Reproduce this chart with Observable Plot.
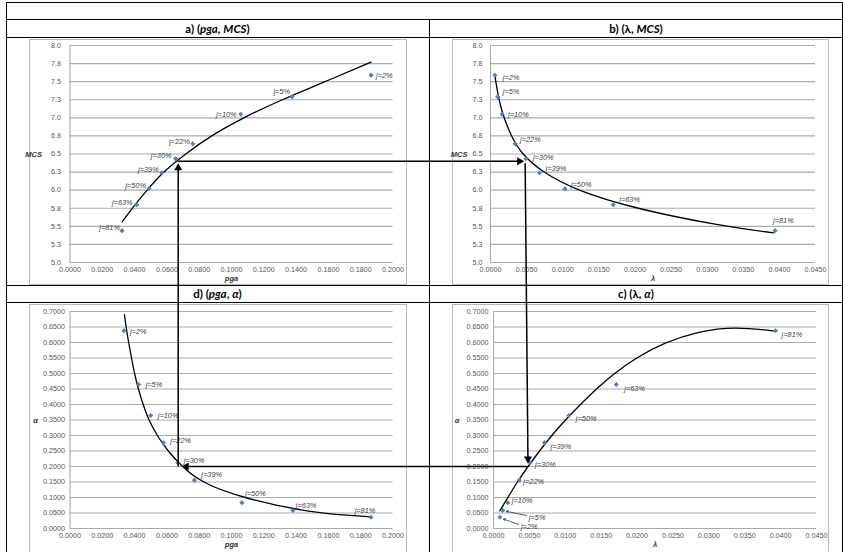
<!DOCTYPE html>
<html>
<head>
<meta charset="utf-8">
<script src="https://cdn.jsdelivr.net/npm/d3@7"></script>
<script src="https://cdn.jsdelivr.net/npm/@observablehq/plot@0.6"></script>
<style>
html,body{margin:0;padding:0;background:#fff;}
#page{position:relative;width:843px;height:552px;overflow:hidden;background:#fff;}
.hl{position:absolute;height:1px;background:#000;}
.vl{position:absolute;width:1px;background:#000;}
.hdr{position:absolute;font-family:Lato,"Open Sans",sans-serif;font-weight:700;font-size:11.5px;color:#000;white-space:nowrap;transform:translate(-50%,-50%);line-height:1;}
.frame{position:absolute;border:1px solid #b8b8b8;box-sizing:border-box;}
.panel{position:absolute;}
.panel svg{overflow:visible;}
.panel svg, .panel svg text{font-family:"Liberation Sans",Arial,sans-serif !important;}
</style>
</head>
<body>
<div id="page"></div>
<script>
// ---------------- DATA ----------------
const jLabels = ["j=2%","j=5%","j=10%","j=22%","j=30%","j=39%","j=50%","j=63%","j=81%"];

// a) (pga, MCS)
const pgaA = [0.1864,0.1375,0.1057,0.0760,0.0654,0.0568,0.0489,0.0413,0.0322];
const mcsA = [7.59,7.29,7.05,6.64,6.435,6.24,6.02,5.80,5.44];
// b) (lambda, MCS)
const lambdaB = [0.0006,0.0010,0.0016,0.0034,0.0049,0.0068,0.0103,0.0170,0.0394];
const mcsB = [7.59,7.29,7.05,6.64,6.435,6.24,6.02,5.80,5.44];
// c) (lambda, alpha)
const lambdaC = [0.0009,0.0013,0.0020,0.0036,0.0051,0.0071,0.0105,0.0171,0.0393];
const alphaC = [0.0365,0.058,0.083,0.156,0.212,0.277,0.3645,0.4645,0.638];
// d) (pga, alpha)
const pgaD = [0.0334,0.0425,0.0500,0.0578,0.0667,0.0770,0.1065,0.1380,0.1864];
const alphaD = [0.638,0.4645,0.3645,0.277,0.212,0.156,0.083,0.058,0.0365];

// trend curves
const curveApga = [0.0323,0.0384,0.0477,0.0575,0.0714,0.0870,0.1070,0.1310,0.1580,0.1864];
const curveAmcs = [5.56,5.75,6.0,6.25,6.5,6.75,7.0,7.25,7.5,7.77];
const curveBlambda = [0.0006,0.00074,0.00115,0.00184,0.00286,0.00429,0.00715,0.01177,0.0197,0.0322,0.0392];
const curveBmcs = [7.59,7.5,7.25,7.0,6.75,6.5,6.25,6.0,5.75,5.5,5.41];
const curveClambda = [0.00088,0.0020,0.0033,0.0048,0.0064,0.0081,0.0100,0.0121,0.0143,0.0168,0.0198,0.0238,0.0286,0.0335,0.0393];
const curveCalpha = [0.057,0.10,0.15,0.20,0.25,0.30,0.35,0.40,0.45,0.50,0.55,0.60,0.636,0.651,0.637];
const curveDpga = [0.0337,0.0347,0.0363,0.0381,0.0399,0.0423,0.0452,0.0487,0.0539,0.0605,0.0693,0.0807,0.1054,0.1487,0.1864];
const curveDalpha = [0.69,0.65,0.60,0.55,0.50,0.45,0.40,0.35,0.30,0.25,0.20,0.15,0.10,0.05,0.0376];

// ticks
const pgaTicks = [0,0.02,0.04,0.06,0.08,0.1,0.12,0.14,0.16,0.18,0.2];
const pgaTickLabels = ["0.0000","0.0200","0.0400","0.0600","0.0800","0.1000","0.1200","0.1400","0.1600","0.1800","0.2000"];
const lambdaTicks = [0,0.005,0.01,0.015,0.02,0.025,0.03,0.035,0.04,0.045];
const lambdaTickLabels = ["0.0000","0.0050","0.0100","0.0150","0.0200","0.0250","0.0300","0.0350","0.0400","0.0450"];
const mcsTicks = [5,5.25,5.5,5.75,6,6.25,6.5,6.75,7,7.25,7.5,7.75,8];
const mcsTickLabels = ["5.0","5.3","5.5","5.8","6.0","6.3","6.5","6.8","7.0","7.3","7.5","7.8","8.0"];
const alphaTicks = [0,0.05,0.1,0.15,0.2,0.25,0.3,0.35,0.4,0.45,0.5,0.55,0.6,0.65,0.7];
const alphaTickLabels = ["0.0000","0.0500","0.1000","0.1500","0.2000","0.2500","0.3000","0.3500","0.4000","0.4500","0.5000","0.5500","0.6000","0.6500","0.7000"];

// ---------------- PAGE ----------------
const page = document.getElementById("page");
function addDiv(cls, style, html) {
  const d = document.createElement("div");
  d.className = cls;
  for (const k in style) d.style[k] = typeof style[k] === "number" ? style[k] + "px" : style[k];
  if (html) d.innerHTML = html;
  page.appendChild(d);
  return d;
}
// table rules
[2,19,37,285,302].forEach(t => addDiv("hl", {top:t, left:6, width:837}));
addDiv("vl", {left:6, top:2, height:560});
addDiv("vl", {left:429, top:19, height:560});
addDiv("vl", {left:842, top:2, height:560});
// headers
addDiv("hdr", {left:217.5, top:28.5}, "a) (<i>pga</i>, <i>MCS</i>)");
addDiv("hdr", {left:636, top:28.5}, "b) (λ, <i>MCS</i>)");
addDiv("hdr", {left:217.5, top:293.5}, "d) (<i>pga</i>, <i>α</i>)");
addDiv("hdr", {left:636, top:293.5}, "c) (λ, <i>α</i>)");
// chart-area frames
addDiv("frame", {left:29, top:39, width:378, height:246});
addDiv("frame", {left:452, top:39, width:377, height:246});
addDiv("frame", {left:29, top:304, width:378, height:260});
addDiv("frame", {left:452, top:304, width:377, height:260});

const FONT = "'Liberation Sans', Arial, sans-serif";
const GRID = "#ababab";

function makePanel(cfg) {
  const pts = cfg.x.map((v, i) => ({x: v, y: cfg.y[i], label: jLabels[i]}));
  const curve = cfg.cx.map((v, i) => ({x: v, y: cfg.cy[i]}));
  const marks = [
    Plot.ruleY(cfg.yTicks, {x1: cfg.xDomain[0], x2: cfg.xDomain[1], stroke: GRID, strokeWidth: 1.1}),
    Plot.ruleX([cfg.xDomain[0]], {y1: cfg.yDomain[0], y2: cfg.yDomain[1], stroke: GRID, strokeWidth: 1.1}),
    Plot.axisX({ticks: cfg.xTicks, tickFormat: d => cfg.xTickLabels[cfg.xTicks.indexOf(d)], tickSize: 0, tickPadding: 4, fontSize: 7.2, fill: "#555"}),
    Plot.axisY({ticks: cfg.yTicks, tickFormat: d => cfg.yTickLabels[cfg.yTicks.indexOf(d)], tickSize: 0, tickPadding: cfg.yPad, fontSize: 7.2, fill: "#555"}),
    Plot.line(curve, {x: "x", y: "y", curve: cfg.curve, stroke: "#000", strokeWidth: 1.3}),
    Plot.dot(pts, {x: "x", y: "y", symbol: "diamond2", r: 2.3, fill: "#4f81bd"}),
    Plot.text([cfg.xTitle], {frameAnchor: "bottom", dy: cfg.xTitleDy, fontWeight: "bold", fontStyle: "italic", fontSize: 7.5, fill: "#333"}),
    Plot.text([cfg.yTitle], {x: () => cfg.xDomain[0], y: () => cfg.yTitleAt, dx: cfg.yTitleDx, dy: 1, textAnchor: "end", fontWeight: "bold", fontStyle: "italic", fontSize: 7.5, fill: "#333"})
  ];
  pts.forEach((p, i) => {
    const [dx, dy, anchor] = cfg.place[i];
    const upright = (cfg.upright || []).includes(p.label);
    marks.push(Plot.text([p], {x: "x", y: "y", text: "label", dx, dy, textAnchor: anchor, fontStyle: upright ? "normal" : "italic", fontSize: 7.4, fill: "#404040"}));
  });
  if (cfg.extra) marks.push(...cfg.extra);
  const L = cfg.layout;
  const plot = Plot.plot({
    width: L.width, height: L.height,
    marginLeft: L.ml, marginRight: L.mr, marginTop: L.mt, marginBottom: L.mb,
    x: {domain: cfg.xDomain, label: null},
    y: {domain: cfg.yDomain, label: null},
    style: {fontFamily: FONT, background: "transparent", overflow: "visible"},
    marks
  });
  const holder = addDiv("panel", {left: L.left, top: L.top, width: L.width, height: L.height});
  holder.appendChild(plot);
  return {plot, L, sx: v => L.left + plot.scale("x").apply(v), sy: v => L.top + plot.scale("y").apply(v)};
}

const placeA = [[5,0,"start"],[-2,-5,"end"],[-4,0,"end"],[-3,-2,"end"],[-4,-3,"end"],[-3,-3,"end"],[-3,-3,"end"],[-4,-2,"end"],[-2,-3,"end"]];
const placeB = [[8,2,"start"],[5,-5,"start"],[6,0,"start"],[5,-4,"start"],[7,-1,"start"],[6,-4,"start"],[6,-4,"start"],[6,-5,"start"],[-2,-10,"start"]];
const placeC = [[21,9.5,"start"],[26,7,"start"],[4,-2,"start"],[4,1,"start"],[5,2,"start"],[6,4,"start"],[7,3,"start"],[8,4,"start"],[6,4,"start"]];
const placeD = [[6,1,"start"],[7,0,"start"],[7,0,"start"],[7,-2,"start"],[6,-2,"start"],[7,-6,"start"],[3,-9,"start"],[3,-5,"start"],[-6,-7,"middle"]];

const A = makePanel({
  layout: {left:29, top:39, width:378, height:245, ml:40.5, mr:14.5, mt:6, mb:22},
  x: pgaA, y: mcsA, cx: curveApga, cy: curveAmcs, curve: "basis",
  xDomain: [0, 0.2], yDomain: [5, 8],
  xTicks: pgaTicks, xTickLabels: pgaTickLabels, yTicks: mcsTicks, yTickLabels: mcsTickLabels,
  yPad: 9, xTitle: "pga", xTitleDy: 18, yTitle: "MCS", yTitleAt: 6.5, yTitleDx: -28,
  place: placeA, upright: ["j=5%","j=22%"]
});
const B = makePanel({
  layout: {left:452, top:39, width:377, height:245, ml:38, mr:14, mt:6, mb:22},
  x: lambdaB, y: mcsB, cx: curveBlambda, cy: curveBmcs, curve: "basis",
  xDomain: [0, 0.045], yDomain: [5, 8],
  xTicks: lambdaTicks, xTickLabels: lambdaTickLabels, yTicks: mcsTicks, yTickLabels: mcsTickLabels,
  yPad: 8, xTitle: "λ", xTitleDy: 18, yTitle: "MCS", yTitleAt: 6.5, yTitleDx: -23,
  place: placeB
});
const cArrows = [
  {x1: 0.0046, y1: 0.0419, x2: 0.0018, y2: 0.0555},
  {x1: 0.00348, y1: 0.0129, x2: 0.00139, y2: 0.0306}
];
const C = makePanel({
  layout: {left:452, top:304, width:377, height:248, ml:41, mr:13, mt:7, mb:24},
  x: lambdaC, y: alphaC, cx: curveClambda, cy: curveCalpha, curve: "basis",
  xDomain: [0, 0.045], yDomain: [0, 0.7],
  xTicks: lambdaTicks, xTickLabels: lambdaTickLabels, yTicks: alphaTicks, yTickLabels: alphaTickLabels,
  yPad: 5, xTitle: "λ", xTitleDy: 18, yTitle: "α", yTitleAt: 0.35, yTitleDx: -34,
  place: placeC,
  extra: [Plot.arrow(cArrows, {x1: "x1", y1: "y1", x2: "x2", y2: "y2", stroke: "#333", strokeWidth: 0.8, headLength: 4})]
});
const D = makePanel({
  layout: {left:29, top:304, width:378, height:248, ml:40.5, mr:14.5, mt:7, mb:24},
  x: pgaD, y: alphaD, cx: curveDpga, cy: curveDalpha, curve: "basis",
  xDomain: [0, 0.2], yDomain: [0, 0.7],
  xTicks: pgaTicks, xTickLabels: pgaTickLabels, yTicks: alphaTicks, yTickLabels: alphaTickLabels,
  yPad: 5, xTitle: "pga", xTitleDy: 18, yTitle: "α", yTitleAt: 0.35, yTitleDx: -32,
  place: placeD
});

// ---------------- CONNECTING ARROWS (overlay) ----------------
const PGA_STAR = 0.067, MCS_STAR = 6.40, LAMBDA_STAR = 0.0048, ALPHA_STAR = 0.2;
const X1 = A.sx(PGA_STAR), Yt = A.sy(MCS_STAR);
const X2b = B.sx(LAMBDA_STAR), X2c = C.sx(LAMBDA_STAR);
const X1d = D.sx(PGA_STAR), Yb = D.sy(ALPHA_STAR);
const H = 4.67; // triangle tip offset from centroid
const segs = [
  {x1: X1d, y1: Yb, x2: X1, y2: Yt + 6},
  {x1: X1, y1: Yt, x2: X2b - 6, y2: Yt},
  {x1: X2b, y1: Yt + 2, x2: X2c, y2: Yb - 8},
  {x1: X2c, y1: Yb, x2: X1d + 8, y2: Yb}
];
const heads = [
  {x: X1, y: Yt + 2 + H, r: 0},
  {x: X2b - 1 - H, y: Yt, r: 90},
  {x: X2c, y: Yb - 3 - H, r: 180},
  {x: X1d + 3.5 + H, y: Yb, r: 270}
];
const overlay = Plot.plot({
  width: 843, height: 552, margin: 0,
  x: {type: "identity"}, y: {type: "identity"}, axis: null,
  style: {background: "transparent", overflow: "visible"},
  marks: [
    Plot.link(segs, {x1: "x1", y1: "y1", x2: "x2", y2: "y2", stroke: "#000", strokeWidth: 1.5}),
    ...heads.map(h => Plot.dot([h], {x: "x", y: "y", symbol: "triangle", r: 3, fill: "#000", rotate: h.r}))
  ]
});
const ovHolder = addDiv("panel", {left: 0, top: 0, width: 843, height: 552, pointerEvents: "none"});
ovHolder.appendChild(overlay);
</script>
</body>
</html>
